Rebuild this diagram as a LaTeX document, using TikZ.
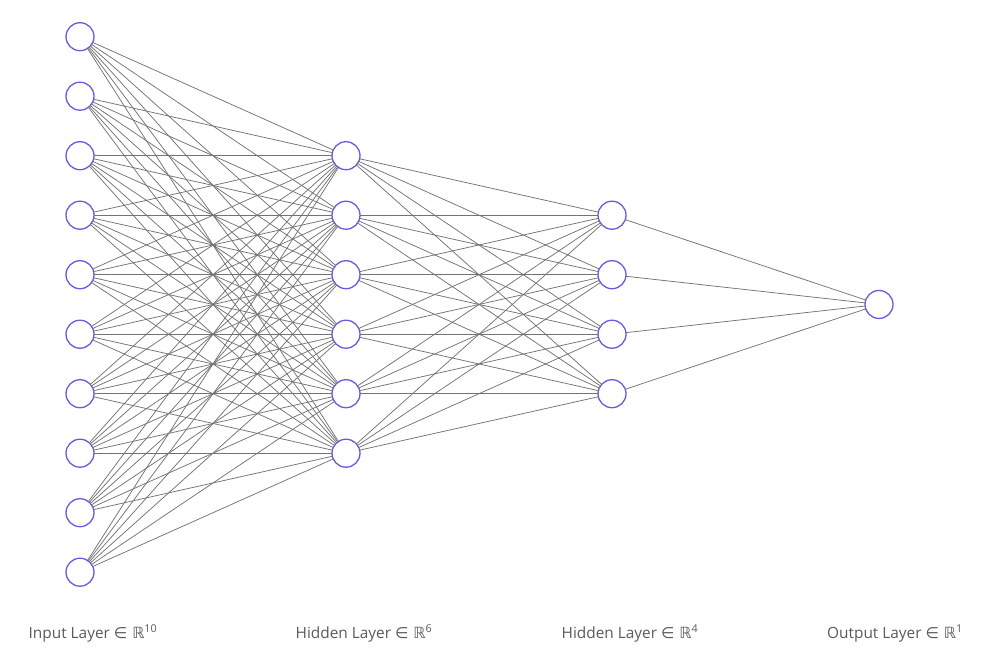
\documentclass[tikz,border=0pt]{standalone}
\usepackage{fontspec}
\setmainfont{Open Sans}
\newfontfamily\symfont{DejaVu Sans}
\definecolor{nodeblue}{RGB}{102,90,225}
\definecolor{edgegray}{RGB}{115,115,115}
\definecolor{labelgray}{RGB}{90,90,90}
\begin{document}
\begin{tikzpicture}[x=1pt,y=-1pt,
  neuron/.style={circle,draw=nodeblue,line width=1.3pt,fill=white,minimum size=28pt,inner sep=0pt,outer sep=0pt},
  edge/.style={draw=edgegray,line width=0.75pt},
  layerlabel/.style={font=\fontsize{15.4}{17}\selectfont,text=labelgray,anchor=base,inner sep=0pt}]
\useasboundingbox (0,0) rectangle (982,657);
\def\stp{59.5}
\foreach \i in {0,...,9} {\node[neuron] (a\i) at (80,{36.7+\i*\stp}) {};}
\foreach \i in {0,...,5} {\node[neuron] (b\i) at (346,{36.7+(\i+2)*\stp}) {};}
\foreach \i in {0,...,3} {\node[neuron] (c\i) at (612,{36.7+(\i+3)*\stp}) {};}
\node[neuron] (d0) at (879,{36.7+4.5*\stp}) {};
\foreach \i in {0,...,9} {\foreach \j in {0,...,5} {\draw[edge] (a\i) -- (b\j);}}
\foreach \i in {0,...,5} {\foreach \j in {0,...,3} {\draw[edge] (b\i) -- (c\j);}}
\foreach \i in {0,...,3} {\draw[edge] (c\i) -- (d0);}
\node[layerlabel] (l1) at (93,638) {Input Layer {\symfont ∈ ℝ}\textsuperscript{10}};
\node[layerlabel] (l2) at (364,638) {Hidden Layer {\symfont ∈ ℝ}\textsuperscript{6}};
\node[layerlabel] (l3) at (630,638) {Hidden Layer {\symfont ∈ ℝ}\textsuperscript{4}};
\node[layerlabel] (l4) at (895,638) {Output Layer {\symfont ∈ ℝ}\textsuperscript{1}};
\end{tikzpicture}
\end{document}
